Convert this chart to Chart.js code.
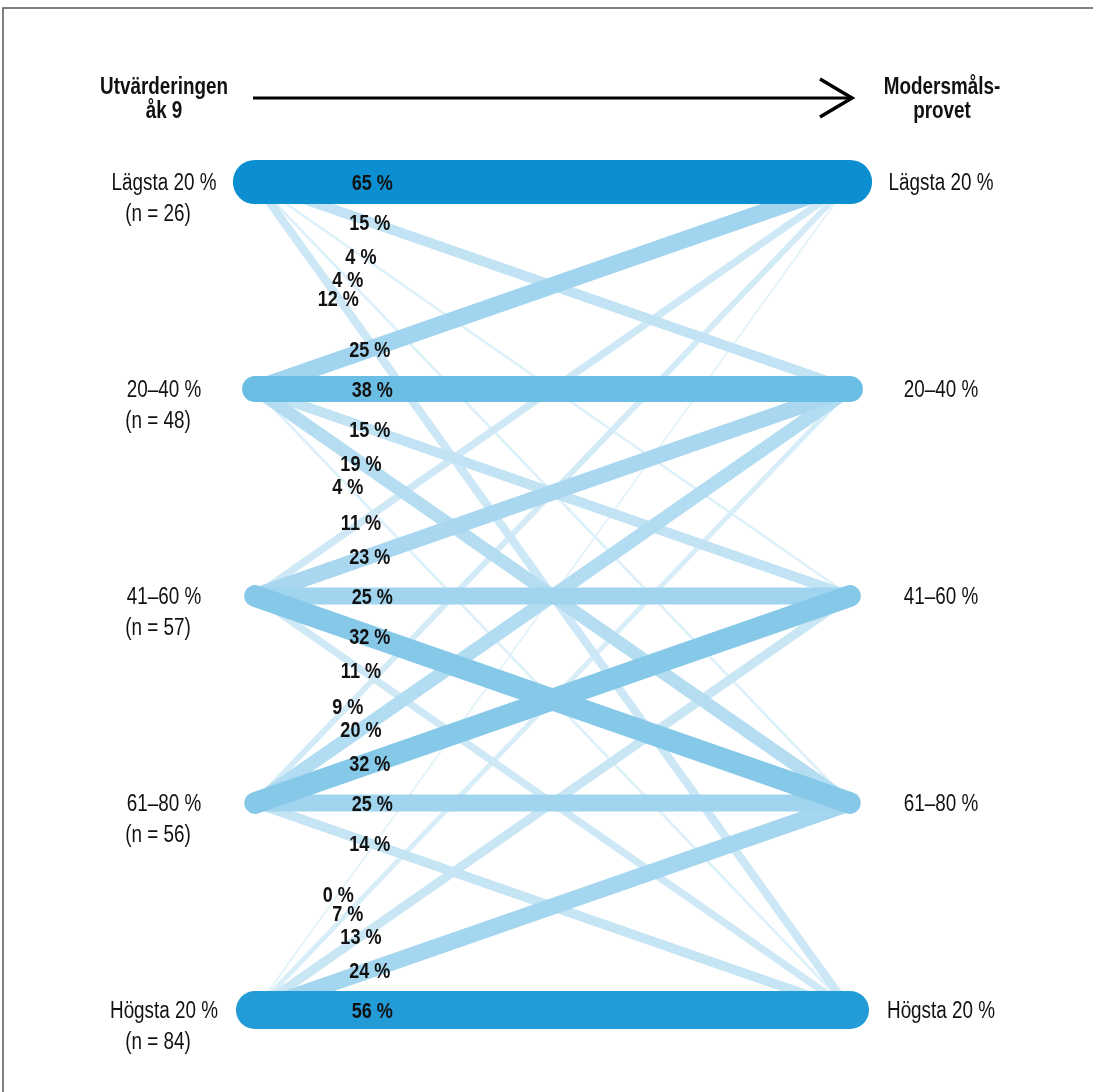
<!DOCTYPE html>
<html>
<head>
<meta charset="utf-8">
<script src="https://cdn.jsdelivr.net/npm/chart.js@4"></script>
<style>
	html, body { margin: 0; padding: 0; background: #fff; }
	#wrap { width: 1093px; height: 1092px; }
</style>
</head>
<body>
<div id="wrap"><canvas id="flowChart" width="1093" height="1092"></canvas></div>
<script>
// groups (same order on both sides)
const groups = ['Lägsta 20 %', '20–40 %', '41–60 %', '61–80 %', 'Högsta 20 %'];
const groupN = [26, 48, 57, 56, 84];
const leftTitle = ['Utvärderingen', 'åk 9'];
const rightTitle = ['Modersmåls-', 'provet'];

// share (%) going from each group on the left to each group on the right
const fromLagsta = [65, 15, 4, 4, 12];
const from20to40 = [25, 38, 15, 19, 4];
const from41to60 = [11, 23, 25, 32, 11];
const from61to80 = [9, 20, 32, 25, 14];
const fromHogsta = [0, 7, 13, 24, 56];

const flows = [fromLagsta, from20to40, from41to60, from61to80, fromHogsta];

// colour ramp: light for small shares, strong blue for big ones
const ramp = [
	[0, [228, 243, 250]],
	[4, [222, 240, 249]],
	[12, [204, 231, 245]],
	[15, [194, 227, 243]],
	[25, [161, 212, 238]],
	[32, [133, 200, 232]],
	[38, [106, 189, 227]],
	[56, [35, 155, 215]],
	[65, [11, 143, 208]]
];
function shareColor(v) {
	for (let k = 1; k < ramp.length; k++) {
		if (v <= ramp[k][0]) {
			const a = ramp[k - 1], b = ramp[k];
			const f = (v - a[0]) / (b[0] - a[0]);
			const c = a[1].map((x, i) => Math.round(x + (b[1][i] - x) * f));
			return 'rgb(' + c.join(',') + ')';
		}
	}
	return 'rgb(' + ramp[ramp.length - 1][1].join(',') + ')';
}

const datasets = [];
flows.forEach((row, i) => {
	row.forEach((v, j) => {
		datasets.push({
			label: groups[i] + ' -> ' + groups[j],
			data: [{ x: 0, y: i }, { x: 1, y: j }],
			share: v,
			from: i,
			to: j,
			borderColor: shareColor(v),
			borderWidth: Math.max(v * 0.68, 2),
			borderCapStyle: 'round',
			pointRadius: 0,
			clip: false,
			order: -v
		});
	});
});

// where along each line the % label sits, by how many steps it jumps
const labelT = [0.197, 0.193, 0.178, 0.156, 0.14];

// no narrow font installed, so squeeze Arial-alike sideways
const squeeze = 0.82;
function narrowText(ctx, text, x, y) {
	ctx.save();
	ctx.translate(x, y + 2);
	ctx.scale(squeeze, 1);
	ctx.fillText(text, 0, 0);
	ctx.restore();
}

const face = '"Liberation Sans", Arial, sans-serif';

const decorations = {
	id: 'decorations',
	afterDatasetsDraw(chart) {
		const { ctx, chartArea, scales } = chart;
		const xs = scales.x, ys = scales.y;
		ctx.save();

		// frame
		ctx.strokeStyle = '#555';
		ctx.lineWidth = 1.5;
		ctx.beginPath();
		ctx.moveTo(3, 1092);
		ctx.lineTo(3, 8);
		ctx.lineTo(1093, 8);
		ctx.stroke();

		// arrow
		const ay = 98;
		ctx.strokeStyle = '#000';
		ctx.lineWidth = 3;
		ctx.beginPath();
		ctx.moveTo(chartArea.left - 2, ay);
		ctx.lineTo(chartArea.right + 2, ay);
		ctx.stroke();
		ctx.lineWidth = 3.5;
		ctx.lineJoin = 'miter';
		ctx.beginPath();
		ctx.moveTo(chartArea.right - 30, ay - 19);
		ctx.lineTo(chartArea.right + 2, ay);
		ctx.lineTo(chartArea.right - 30, ay + 19);
		ctx.stroke();

		// titles
		ctx.fillStyle = '#111';
		ctx.textAlign = 'center';
		ctx.textBaseline = 'middle';
		ctx.font = 'bold 23px ' + face;
		narrowText(ctx, leftTitle[0], 164, 86);
		narrowText(ctx, leftTitle[1], 164, 110);
		narrowText(ctx, rightTitle[0], 942, 86);
		narrowText(ctx, rightTitle[1], 942, 110);

		// group labels
		ctx.font = '23px ' + face;
		groups.forEach((g, i) => {
			const y = ys.getPixelForValue(i);
			narrowText(ctx, g, chartArea.left - 91, y);
			narrowText(ctx, '(n = ' + groupN[i] + ')', chartArea.left - 97, y + 31);
			narrowText(ctx, g, chartArea.right + 91, y);
		});

		// share labels
		ctx.font = 'bold 22px ' + face;
		datasets.forEach(d => {
			const t = labelT[Math.abs(d.to - d.from)];
			const x = xs.getPixelForValue(t);
			const y = ys.getPixelForValue(d.from + (d.to - d.from) * t);
			narrowText(ctx, d.share + ' %', x, y);
		});

		ctx.restore();
	}
};

new Chart(document.getElementById('flowChart'), {
	type: 'line',
	data: { datasets },
	options: {
		responsive: false,
		animation: false,
		layout: { padding: { left: 255, right: 243, top: 182, bottom: 82 } },
		scales: {
			x: { type: 'linear', min: 0, max: 1, display: false },
			y: { type: 'linear', min: 0, max: 4, reverse: true, display: false }
		},
		plugins: {
			legend: { display: false },
			tooltip: { enabled: false }
		}
	},
	plugins: [decorations]
});
</script>
</body>
</html>
